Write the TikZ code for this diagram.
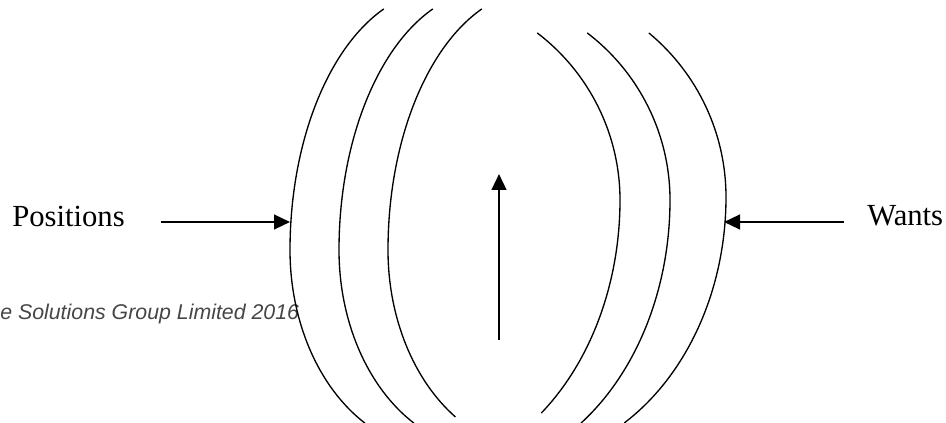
\documentclass[tikz,border=0pt]{standalone}
\usepackage{fontspec}
\setmainfont{Liberation Serif}
\newfontfamily\notefont{Liberation Sans}
\usepackage{tikz}
\usetikzlibrary{arrows.meta, calc}
\definecolor{lineColor}{RGB}{0, 0, 0}
\definecolor{noteColor}{RGB}{70, 70, 70}

\begin{document}
\begin{tikzpicture}[
        x=0.75pt, y=-0.75pt,
        label/.style={inner sep=0pt, anchor=base west, font=\fontsize{23}{27}\selectfont},
        note/.style={inner sep=0pt, anchor=base west, text=noteColor, font=\notefont\itshape\fontsize{16}{19}\selectfont},
        wave/.style={draw=lineColor, line width=1pt},
        line/.style={draw=lineColor, line width=1.8pt, -{Triangle[length=12pt, width=11pt]}}
    ]
    \useasboundingbox (0,0) rectangle (946,423);

    % Nodes
    \node (positions) [label] at (12,227) {Positions};
    \node (wants) [label] at (867,226) {Wants};
    \node (copyright) [note] at (0,320) {e Solutions Group Limited 2016};

    % Arcs, left side (drawn from the leftmost point up, then down)
    \draw [wave] (290,250) arc[start angle=180, end angle=112, x radius=112.5pt, y radius=195pt]
                 (290,250) arc[start angle=180, end angle=240, x radius=112.5pt, y radius=150pt];
    \draw [wave] (339,250) arc[start angle=180, end angle=112, x radius=112.5pt, y radius=195pt]
                 (339,250) arc[start angle=180, end angle=240, x radius=112.5pt, y radius=150pt];
    \draw [wave] (388,250) arc[start angle=180, end angle=112, x radius=112.5pt, y radius=195pt]
                 (388,250) arc[start angle=180, end angle=236.6, x radius=112.5pt, y radius=150pt];

    % Arcs, right side (drawn from the rightmost point up, then down)
    \draw [wave] (620,200) arc[start angle=0, end angle=52.7, x radius=157.5pt, y radius=157.5pt]
                 (620,200) arc[start angle=0, end angle=-51.3, x radius=157.5pt, y radius=204.75pt];
    \draw [wave] (670,200) arc[start angle=0, end angle=52.7, x radius=157.5pt, y radius=157.5pt]
                 (670,200) arc[start angle=0, end angle=-54.8, x radius=157.5pt, y radius=204.75pt];
    \draw [wave] (726,197) arc[start angle=0, end angle=50.35, x radius=159.75pt, y radius=159.75pt]
                 (726,197) arc[start angle=0, end angle=-58.5, x radius=159.75pt, y radius=198.75pt];

    % Points on the arcs
    \coordinate (tipL) at (290,222);
    \coordinate (tipR) at (724,222);
    \coordinate (upTail) at (499,340);
    \coordinate (upTip) at (499,174);

    % Connectors
    \path [line, shorten <=27pt] (positions.east |- tipL) -- (tipL);
    \path [line, shorten <=17pt] (wants.west |- tipR) -- (tipR);
    \path [line] (upTail) -- (upTip);
\end{tikzpicture}
\end{document}
